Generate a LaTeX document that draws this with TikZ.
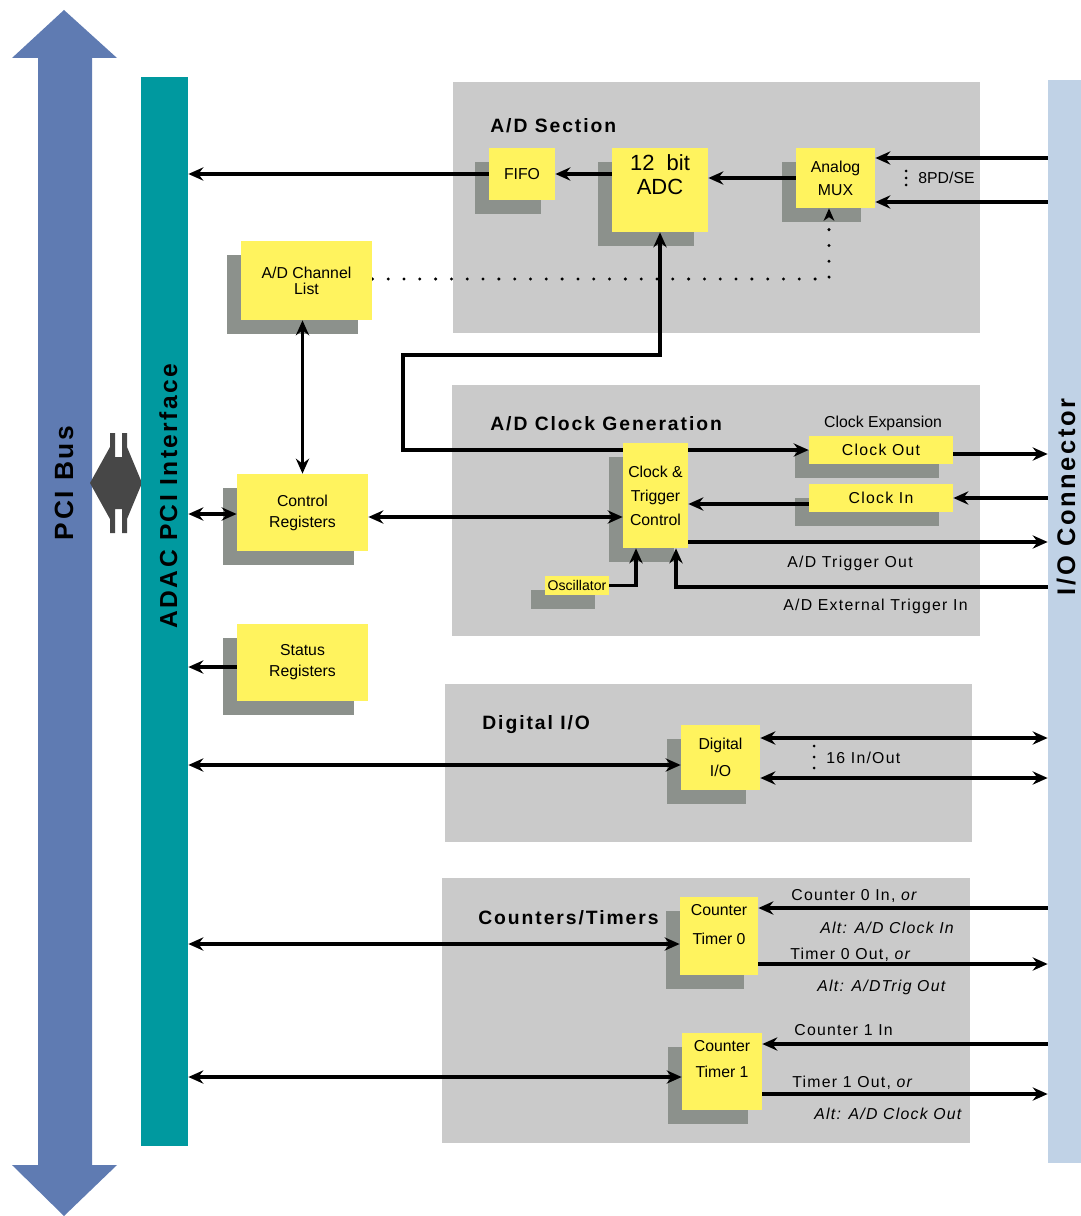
\documentclass[tikz,border=0pt]{standalone}
\usepackage{fontspec}
\setmainfont{Liberation Sans}
\newfontfamily\hdfont[LetterSpace=10]{Liberation Sans}
\newfontfamily\lbfont[LetterSpace=8]{Liberation Sans}
\usetikzlibrary{arrows.meta}
\definecolor{panelc}{HTML}{CACACA}
\definecolor{shad}{HTML}{8C918C}
\definecolor{ylw}{HTML}{FFF35E}
\definecolor{adacteal}{HTML}{00999F}
\definecolor{busblue}{HTML}{5F7BB2}
\definecolor{conblue}{HTML}{C0D2E6}
\definecolor{dkgray}{HTML}{474747}
\pgfdeclarelayer{bg}
\pgfdeclarelayer{lines}
\pgfsetlayers{bg,lines,main}
\tikzset{
  ybox/.style={fill=ylw, inner sep=0pt, align=center, font=\fontsize{9}{12}\selectfont},
  wire/.style={line width=1.9pt, draw=black},
  ar/.style={wire, -{Stealth[length=8.5pt,width=7.5pt,inset=2.8pt]}},
  dar/.style={wire, {Stealth[length=8.5pt,width=7.5pt,inset=2.8pt]}-{Stealth[length=8.5pt,width=7.5pt,inset=2.8pt]}},
  dotl/.style={line width=1.9pt, dash pattern=on 0pt off 9pt, line cap=round, -{Stealth[length=7pt,width=6pt,inset=2pt]}},
  hd/.style={inner sep=0pt, anchor=base west, font=\hdfont\bfseries\fontsize{11}{13}\selectfont},
  lbl/.style={inner sep=0pt, anchor=base west, font=\lbfont\fontsize{9}{11}\selectfont},
  vtitle/.style={inner sep=0pt, anchor=base, rotate=90, font=\hdfont\bfseries\fontsize{15}{17}\selectfont},
}
\newcommand\mkbox[7][]{%
  \begin{pgfonlayer}{bg}\fill[shad] (#3-14,#4+14) rectangle (#5-14,#6+14);\end{pgfonlayer}
  \node[ybox, minimum width={(#5-#3)*0.02cm}, minimum height={(#6-#4)*0.02cm}, #1] (#2) at ({(#3+#5)/2},{(#4+#6)/2}) {#7};%
}
\begin{document}
\begin{tikzpicture}[x=0.02cm,y=-0.02cm]
\useasboundingbox (0,0) rectangle (1080,1216);
% panels
\begin{pgfonlayer}{bg}
\fill[panelc] (453,82) rectangle (980,333);
\fill[panelc] (452,385) rectangle (980,636);
\fill[panelc] (445,684) rectangle (972,842);
\fill[panelc] (442,878) rectangle (970,1143);
\end{pgfonlayer}
% PCI bus arrow
\fill[busblue] (64,10) -- (117,58) -- (92,58) -- (92,1165) -- (117,1165) -- (64,1216) -- (12,1165) -- (38,1165) -- (38,58) -- (12,58) -- cycle;
\node[vtitle] (pcit) at (73,483) {PCI Bus};
% link shape
\fill[dkgray] (90,483) -- (110,447) -- (110,433) -- (115,433) -- (115,457) -- (122,457) -- (122,433) -- (127,433) -- (127,447) -- (142,483) -- (127,519) -- (127,533) -- (122,533) -- (122,509) -- (115,509) -- (115,533) -- (110,533) -- (110,519) -- cycle;
% ADAC bar
\node[fill=adacteal, inner sep=0pt, minimum width={47*0.02cm}, minimum height={1069*0.02cm}] (adac) at (164.5,611.5) {};
\node[vtitle, font=\hdfont\bfseries\fontsize{14}{16}\selectfont] (adact) at (177,496) {ADAC PCI Interface};
% I/O connector bar
\node[fill=conblue, inner sep=0pt, minimum width={60*0.02cm}, minimum height={1083*0.02cm}] (conn) at (1078,621.5) {};
\node[vtitle, font=\hdfont\bfseries\fontsize{14.5}{17}\selectfont] (connt) at (1075,497) {I/O Connector};
% section titles
\node[hd] (t1) at (490,133) {A/D Section};
\node[hd] (t2) at (490,430) {A/D Clock Generation};
\node[hd] (t3) at (482,729) {Digital I/O};
\node[hd] (t4) at (478,924) {Counters/Timers};
\node[inner sep=0pt, anchor=base, font=\fontsize{9}{11}\selectfont] (t5) at (883,427) {Clock Expansion};
% boxes
\mkbox{fifo}{489}{148}{555}{200}{FIFO}
\mkbox[label={[anchor=north, inner sep=0pt, yshift=-4pt, align=center, font=\fontsize{12.5}{13.6}\selectfont]north:{12\ \ bit\\ADC}}]{adc}{612}{148}{708}{232}{}
\mkbox[font=\fontsize{9}{13}\selectfont]{mux}{796}{148}{875}{208}{Analog\\MUX}
\mkbox[font=\fontsize{9}{9}\selectfont]{chl}{241}{241}{372}{320}{A/D Channel\\List}
\mkbox{ctrl}{237}{474}{368}{551}{Control\\Registers}
\mkbox{stat}{237}{624}{368}{701}{Status\\Registers}
\mkbox[font=\fontsize{9}{13.6}\selectfont]{ctc}{623}{443}{688}{548}{Clock \&\\Trigger\\Control}
\mkbox[font=\lbfont\fontsize{9}{11}\selectfont]{cko}{809}{436}{953}{464}{Clock Out}
\mkbox[font=\lbfont\fontsize{9}{11}\selectfont]{cki}{809}{484}{953}{512}{Clock In}
\mkbox[font=\fontsize{8}{10}\selectfont]{osc}{545}{576}{609}{595}{Oscillator}
\mkbox[font=\fontsize{9}{15.3}\selectfont]{dio}{681}{725}{760}{790}{Digital\\I/O}
\mkbox[label={[anchor=north, inner sep=0pt, yshift=-4.5pt, align=center, font=\fontsize{9}{16}\selectfont]north:{Counter\\Timer 0}}]{ct0}{680}{897}{758}{975}{}
\mkbox[label={[anchor=north, inner sep=0pt, yshift=-4pt, align=center, font=\fontsize{9}{15.3}\selectfont]north:{Counter\\Timer 1}}]{ct1}{682}{1033}{762}{1110}{}
% labels
\node[lbl, font=\fontsize{9}{11}\selectfont] (l1) at (918,184) {8PD/SE};
\node[lbl] (l2) at (826,763) {16 In/Out};
\node[lbl] (l3) at (787,567) {A/D Trigger Out};
\node[lbl] (l4) at (783,610) {A/D External Trigger In};
\node[lbl] (l5) at (791,900) {Counter 0 In, {\itshape or}};
\node[lbl, font=\lbfont\itshape\fontsize{9}{11}\selectfont] (l6) at (820,933) {Alt: A/D Clock In};
\node[lbl] (l7) at (790,959) {Timer 0 Out, {\itshape or}};
\node[lbl, font=\lbfont\itshape\fontsize{9}{11}\selectfont] (l8) at (817,991) {Alt: A/DTrig Out};
\node[lbl] (l9) at (794,1035) {Counter 1 In};
\node[lbl] (l10) at (792,1087) {Timer 1 Out, {\itshape or}};
\node[lbl, font=\lbfont\itshape\fontsize{9}{11}\selectfont] (l11) at (814,1119) {Alt: A/D Clock Out};
% ellipsis dots
\foreach \yy in {171,178,185} \fill (906,\yy) circle (1.5);
\foreach \yy in {746,757,768} \fill (814,\yy) circle (1.5);
\coordinate (dotc) at (829,279);
% connectors
\begin{pgfonlayer}{lines}
\draw[ar] (fifo.west) -- (fifo.west -| adac.east);
\draw[ar] (adc.west |- fifo.east) -- (fifo.east);
\draw[ar] (mux.west) -- (mux.west -| adc.east);
\draw[ar] (conn.west |- 0,158) -- (mux.east |- 0,158);
\draw[ar] (conn.west |- 0,202) -- (mux.east |- 0,202);
\draw[dotl] (chl.east |- dotc) -- (dotc) -- (dotc |- mux.south);
\draw[dar] (ctrl.north |- chl.south) -- (ctrl.north);
\draw[dar] (adac.east |- 0,514) -- (ctrl.west |- 0,514);
\draw[dar] (ctrl.east |- 0,517) -- (ctc.west |- 0,517);
\draw[ar] (stat.west |- 0,667) -- (adac.east |- 0,667);
\draw[dar] (adac.east |- 0,765) -- (dio.west |- 0,765);
\draw[dar] (dio.east |- 0,738) -- (conn.west |- 0,738);
\draw[dar] (dio.east |- 0,778) -- (conn.west |- 0,778);
\draw[dar] (adac.east |- 0,944) -- (ct0.west |- 0,944);
\draw[ar] (conn.west |- 0,908) -- (ct0.east |- 0,908);
\draw[ar] (ct0.east |- 0,964) -- (conn.west |- 0,964);
\draw[dar] (adac.east |- 0,1077) -- (ct1.west |- 0,1077);
\draw[ar] (conn.west |- 0,1044) -- (ct1.east |- 0,1044);
\draw[ar] (ct1.east |- 0,1094) -- (conn.west |- 0,1094);
\draw[dar, line join=miter] (cko.west) -- (403,0 |- cko.west) -- (403,355) -- (adc.south |- 0,355) -- (adc.south);
\draw[ar] (cko.east |- 0,454) -- (conn.west |- 0,454);
\draw[ar] (conn.west |- cki.east) -- (cki.east);
\draw[ar] (cki.west |- 0,504) -- (ctc.east |- 0,504);
\draw[ar] (ctc.east |- 0,542) -- (conn.west |- 0,542);
\draw[ar, line join=miter] (conn.west |- 0,587) -- (676,587) -- (676,0 |- ctc.south);
\draw[ar, line join=miter] (osc.east) -- (636,0 |- osc.east) -- (636,0 |- ctc.south);
\end{pgfonlayer}
\end{tikzpicture}
\end{document}
